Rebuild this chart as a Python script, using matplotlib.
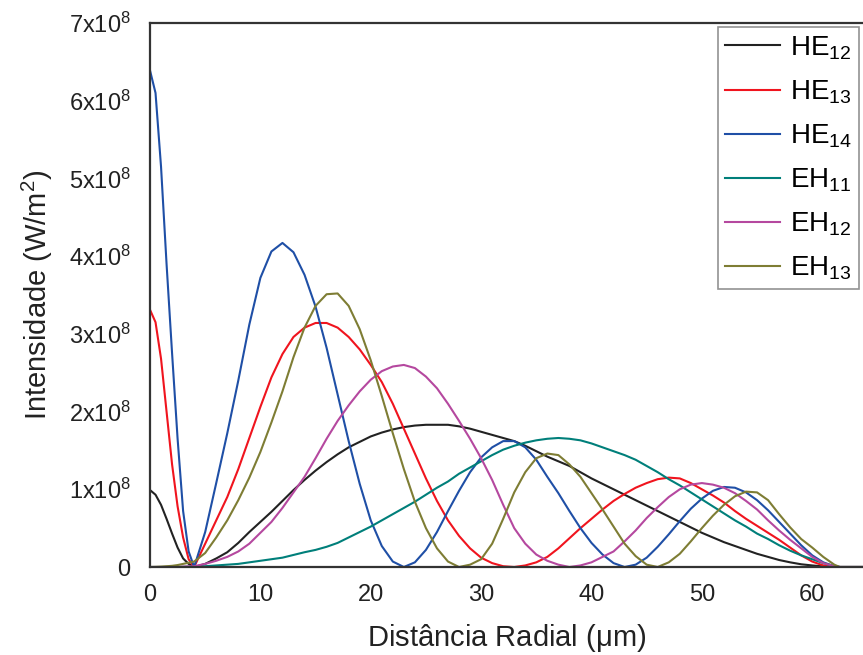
import matplotlib
matplotlib.use("Agg")
import matplotlib.pyplot as plt
from matplotlib.ticker import FuncFormatter

plt.rcParams["font.family"] = ["Liberation Sans", "DejaVu Sans"]

# radial positions (um): half steps near the axis, then 1 um
r = [0, 0.5, 1, 1.5, 2, 2.5, 3, 3.5, 4] + list(range(5, 63)) + [62.5, 63, 64, 65]

# intensities in units of 1e8 W/m^2
he12 = [0.99, 0.93, 0.80, 0.62, 0.43, 0.25, 0.11, 0.04, 0.0,
        0.04, 0.11, 0.19, 0.31, 0.45, 0.58, 0.71, 0.85, 0.99, 1.12,
        1.24, 1.35, 1.45, 1.54, 1.61, 1.68, 1.73, 1.77, 1.80, 1.82,
        1.83, 1.83, 1.83, 1.81, 1.78, 1.74, 1.70, 1.66, 1.62, 1.56,
        1.49, 1.42, 1.36, 1.30, 1.22, 1.14, 1.07, 1.00, 0.93, 0.86,
        0.79, 0.72, 0.65, 0.58, 0.51, 0.44, 0.38, 0.32, 0.27, 0.22,
        0.17, 0.13, 0.09, 0.06, 0.035, 0.02, 0.008, 0.0,
        0.0, 0.0, 0.0, 0.0]
he13 = [3.31, 3.15, 2.68, 2.00, 1.32, 0.78, 0.38, 0.10, 0.0,
        0.30, 0.60, 0.90, 1.26, 1.66, 2.06, 2.44, 2.74, 2.96, 3.08,
        3.14, 3.14, 3.08, 2.96, 2.80, 2.60, 2.38, 2.10, 1.78, 1.46,
        1.14, 0.85, 0.60, 0.40, 0.24, 0.12, 0.05, 0.01, 0.0, 0.02,
        0.06, 0.13, 0.24, 0.37, 0.50, 0.62, 0.74, 0.85, 0.94, 1.02,
        1.08, 1.13, 1.15, 1.14, 1.08, 1.00, 0.92, 0.83, 0.72, 0.62,
        0.53, 0.44, 0.35, 0.25, 0.15, 0.07, 0.02, 0.0,
        0.0, 0.0, 0.0, 0.0]
he14 = [6.39, 6.10, 5.15, 3.90, 2.75, 1.65, 0.72, 0.20, 0.0,
        0.45, 1.08, 1.72, 2.40, 3.12, 3.72, 4.06, 4.17, 4.05, 3.76,
        3.35, 2.82, 2.22, 1.62, 1.07, 0.60, 0.27, 0.07, 0.0, 0.06,
        0.22, 0.45, 0.72, 0.98, 1.22, 1.41, 1.54, 1.62, 1.62, 1.54,
        1.38, 1.16, 0.95, 0.72, 0.50, 0.31, 0.16, 0.05, 0.0, 0.03,
        0.12, 0.26, 0.42, 0.59, 0.75, 0.88, 0.98, 1.03, 1.02, 0.96,
        0.86, 0.73, 0.58, 0.43, 0.28, 0.15, 0.06, 0.01,
        0.0, 0.0, 0.0, 0.0]
eh11 = [0.0, 0.0, 0.0, 0.0, 0.0, 0.0, 0.002, 0.004, 0.006,
        0.01, 0.02, 0.03, 0.04, 0.06, 0.08, 0.10, 0.12, 0.155, 0.19,
        0.22, 0.26, 0.31, 0.38, 0.45, 0.52, 0.60, 0.68, 0.76, 0.84,
        0.93, 1.02, 1.10, 1.20, 1.28, 1.36, 1.44, 1.51, 1.56, 1.60,
        1.63, 1.65, 1.66, 1.65, 1.63, 1.59, 1.54, 1.49, 1.44, 1.38,
        1.30, 1.22, 1.13, 1.05, 0.96, 0.87, 0.78, 0.69, 0.60, 0.52,
        0.43, 0.36, 0.28, 0.21, 0.15, 0.10, 0.05, 0.01,
        0.0, 0.0, 0.0, 0.0]
eh12 = [0.0, 0.0, 0.0, 0.0, 0.0, 0.002, 0.005, 0.008, 0.01,
        0.04, 0.08, 0.13, 0.20, 0.30, 0.44, 0.58, 0.76, 0.96, 1.16,
        1.40, 1.65, 1.88, 2.08, 2.26, 2.41, 2.52, 2.58, 2.60, 2.56,
        2.45, 2.30, 2.10, 1.88, 1.65, 1.40, 1.12, 0.80, 0.50, 0.30,
        0.16, 0.08, 0.03, 0.0, 0.02, 0.06, 0.13, 0.20, 0.33, 0.47,
        0.63, 0.77, 0.90, 1.00, 1.06, 1.08, 1.06, 1.02, 0.95, 0.85,
        0.74, 0.60, 0.47, 0.35, 0.24, 0.13, 0.05, 0.01,
        0.0, 0.0, 0.0, 0.0]
eh13 = [0.0, 0.002, 0.005, 0.01, 0.015, 0.025, 0.04, 0.055, 0.07,
        0.18, 0.38, 0.60, 0.86, 1.15, 1.48, 1.86, 2.26, 2.70, 3.08,
        3.36, 3.51, 3.52, 3.36, 3.06, 2.66, 2.20, 1.72, 1.26, 0.84,
        0.50, 0.24, 0.07, 0.0, 0.03, 0.10, 0.30, 0.62, 0.96, 1.22,
        1.40, 1.46, 1.44, 1.32, 1.16, 0.95, 0.74, 0.52, 0.30, 0.14,
        0.03, 0.0, 0.06, 0.17, 0.33, 0.50, 0.66, 0.80, 0.91, 0.97,
        0.96, 0.86, 0.68, 0.51, 0.36, 0.25, 0.13, 0.03,
        0.0, 0.0, 0.0, 0.0]

labels = [r"$\mathregular{HE_{12}}$", r"$\mathregular{HE_{13}}$",
          r"$\mathregular{HE_{14}}$", r"$\mathregular{EH_{11}}$",
          r"$\mathregular{EH_{12}}$", r"$\mathregular{EH_{13}}$"]
series = [he12, he13, he14, eh11, eh12, eh13]
colors = ["#222222", "#F0141E", "#1F4FA6", "#007F7A", "#B5489F", "#7E7D34"]

fig = plt.figure(figsize=(8.63, 6.55), dpi=100)
ax = fig.add_axes([150 / 863, 88 / 655, 713 / 863, 544 / 655])

for ys, lab, c in zip(series, labels, colors):
    ax.plot(r, [v * 1e8 for v in ys], color=c, lw=1.5, label=lab)

ax.set_xlim(0, 64.6)
ax.set_ylim(0, 7e8)
ax.set_xticks(range(0, 61, 10))
ax.set_yticks([i * 1e8 for i in range(8)])


def fmt_y(v, pos):
    n = int(round(v / 1e8))
    if n == 0:
        return "0"
    return r"$\mathregular{%dx10^{8}}$" % n


ax.yaxis.set_major_formatter(FuncFormatter(fmt_y))
ax.tick_params(length=0, labelsize=17, colors="#222222")
ax.tick_params(axis="y", pad=14)
ax.tick_params(axis="x", pad=12)

for s in ["left", "bottom", "top"]:
    ax.spines[s].set_linewidth(1.6)
    ax.spines[s].set_color("#333333")
ax.spines["right"].set_visible(False)

ax.set_xlabel(r"Distância Radial ($\mathregular{\mu}$m)", fontsize=21,
              color="#222222", labelpad=12)
ax.set_ylabel(r"Intensidade (W/m$\mathregular{^2}$)", fontsize=21,
              color="#222222", labelpad=10)

leg = ax.legend(loc="upper right", fontsize=20, frameon=True, fancybox=False,
                edgecolor="#777777", handlelength=2.0, handletextpad=0.35,
                labelspacing=0.6, borderaxespad=0.15, borderpad=0.25)
leg.get_frame().set_linewidth(1.2)

fig.savefig("out.png", dpi=100)
